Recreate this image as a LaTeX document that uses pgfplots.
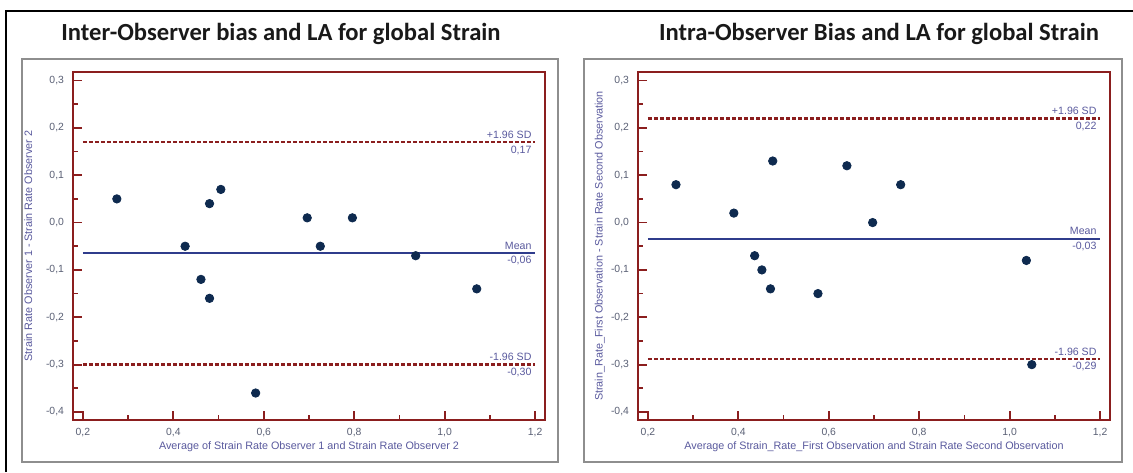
\documentclass[border=0pt]{standalone}
\usepackage{pgfplots}
\pgfplotsset{compat=1.18}
\usepackage{fontspec}
\setmainfont{Liberation Sans}
\newfontfamily\titlefont{Carlito}
\definecolor{framec}{HTML}{8B1E1E}
\definecolor{meanc}{HTML}{2F3C8C}
\definecolor{dotc}{HTML}{0E2A4F}
\definecolor{lbl}{HTML}{5A5A9E}
\definecolor{tlbl}{HTML}{5A6075}
\definecolor{boxg}{HTML}{8E8E8E}
\pgfplotsset{ba/.style={
  scale only axis, width=236pt, height=174pt, anchor=south west,
  xmin=0.178, xmax=1.222, ymin=-0.417, ymax=0.318,
  xtick={0.2,0.4,0.6,0.8,1.0,1.2},
  ytick={-0.4,-0.3,-0.2,-0.1,0,0.1,0.2,0.3},
  minor x tick num=1, minor y tick num=1,
  xtick pos=left, ytick pos=left, tick align=inside,
  major tick length=4.5pt, minor tick length=2.5pt,
  every tick/.style={framec, line width=0.9pt},
  axis line style={framec, line width=1pt},
  ticklabel style={font=\fontsize{5.2}{6}\selectfont, text=tlbl},
  /pgf/number format/fixed, /pgf/number format/fixed zerofill,
  /pgf/number format/precision=1, /pgf/number format/use comma,
  /pgf/number format/assume math mode=true,
  xticklabel style={yshift=-0.5pt},
  yticklabel style={xshift=-1pt},
  label style={font=\fontsize{5.4}{6.5}\selectfont, text=lbl},
  xlabel style={at={(axis description cs:0.5,-0.077)}, anchor=center},
  clip=false,
}}
\begin{document}
\begin{tikzpicture}
\useasboundingbox (0,0) rectangle (566.5pt,-236pt);
\fill[white] (0,0) rectangle (566.5pt,-236pt);
% outer black frame
\draw[black, line width=1.3pt] (3pt,-236pt) -- (3pt,-5.5pt) -- (566.5pt,-5.5pt);
% grey panel boxes
\draw[boxg, line width=1pt] (11pt,-29.5pt) rectangle (279pt,-231pt);
\draw[boxg, line width=1pt] (292pt,-29.5pt) rectangle (561pt,-231pt);
% titles
\node[font=\titlefont\bfseries\fontsize{12.3}{14}\selectfont, text=black!90] at (140.5pt,-16.8pt) {Inter-Observer bias and LA for global Strain};
\node[font=\titlefont\bfseries\fontsize{12.3}{14}\selectfont, text=black!90] at (439.5pt,-16.8pt) {Intra-Observer Bias and LA for global Strain};

% left panel
\begin{axis}[ba, at={(36.5pt,-210pt)},
  xlabel={Average of Strain Rate Observer 1 and Strain Rate Observer 2},
  ylabel={Strain Rate Observer 1 - Strain Rate Observer 2},
  ylabel style={at={(axis description cs:-0.095,0.5)}, anchor=center}]
\addplot[framec, line width=1.2pt, dash pattern=on 2pt off 1pt] coordinates {(0.2,0.17) (1.2,0.17)};
\addplot[framec, line width=1.2pt, dash pattern=on 2pt off 1pt] coordinates {(0.2,-0.30) (1.2,-0.30)};
\addplot[meanc, line width=1.1pt] coordinates {(0.2,-0.064) (1.2,-0.064)};
\addplot[only marks, mark=*, mark size=2.1pt, dotc] coordinates {
(0.275,0.05) (0.48,0.04) (0.505,0.07) (0.696,0.01) (0.796,0.01)
(0.426,-0.05) (0.725,-0.05) (0.936,-0.07) (0.461,-0.12) (0.480,-0.16)
(1.071,-0.14) (0.582,-0.36)};
\begin{scope}[every node/.style={font=\fontsize{5.3}{6}\selectfont, text=lbl, inner sep=1.6pt}]
\node[anchor=south east] at (axis cs:1.2,0.17) {+1.96 SD};
\node[anchor=north east] at (axis cs:1.2,0.17) {0,17};
\node[anchor=south east] at (axis cs:1.2,-0.064) {Mean};
\node[anchor=north east] at (axis cs:1.2,-0.064) {-0,06};
\node[anchor=south east] at (axis cs:1.2,-0.30) {-1.96 SD};
\node[anchor=north east] at (axis cs:1.2,-0.30) {-0,30};
\end{scope}
\end{axis}

% right panel
\begin{axis}[ba, at={(319pt,-210pt)},
  xlabel={Average of Strain\_Rate\_First Observation and Strain Rate Second Observation},
  ylabel={Strain\_Rate\_First Observation - Strain Rate Second Observation},
  ylabel style={at={(axis description cs:-0.081,0.5)}, anchor=center}]
\addplot[framec, line width=1.2pt, dash pattern=on 2pt off 1pt] coordinates {(0.2,0.22) (1.2,0.22)};
\addplot[framec, line width=1.2pt, dash pattern=on 2pt off 1pt] coordinates {(0.2,-0.288) (1.2,-0.288)};
\addplot[meanc, line width=1.1pt] coordinates {(0.2,-0.034) (1.2,-0.034)};
\addplot[only marks, mark=*, mark size=2.1pt, dotc] coordinates {
(0.262,0.08) (0.390,0.02) (0.476,0.13) (0.640,0.12) (0.697,0.0) (0.759,0.08)
(0.436,-0.07) (0.452,-0.10) (0.471,-0.14) (0.576,-0.15) (1.037,-0.08) (1.049,-0.30)};
\begin{scope}[every node/.style={font=\fontsize{5.3}{6}\selectfont, text=lbl, inner sep=1.6pt}]
\node[anchor=south east] at (axis cs:1.2,0.22) {+1.96 SD};
\node[anchor=north east] at (axis cs:1.2,0.22) {0,22};
\node[anchor=south east] at (axis cs:1.2,-0.034) {Mean};
\node[anchor=north east] at (axis cs:1.2,-0.034) {-0,03};
\node[anchor=south east] at (axis cs:1.2,-0.288) {-1.96 SD};
\node[anchor=north east] at (axis cs:1.2,-0.288) {-0,29};
\end{scope}
\end{axis}
\end{tikzpicture}
\end{document}
